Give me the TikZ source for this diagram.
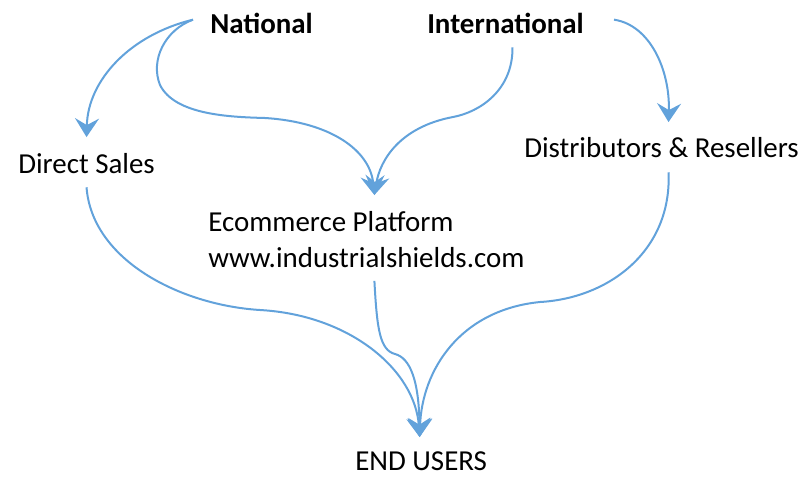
\documentclass[tikz,border=0pt]{standalone}
\usepackage{fontspec}
\setmainfont{Carlito}
\usepackage{xcolor}
\usepackage{tikz}
\usetikzlibrary{calc, arrows.meta, positioning}
\definecolor{flowblue}{RGB}{98,162,219}

\begin{document}
\begin{tikzpicture}[x=0.75pt, y=-0.75pt]
            % Label and arrow styles
            \tikzstyle{lbl} = [inner sep=0pt, font=\fontsize{21.7}{27}\selectfont, text height=14pt, text depth=0pt]
            \tikzstyle{flow} = [draw=flowblue, line width=1.5pt, -{Stealth[length=14pt, width=18pt, inset=5pt]}]

            \useasboundingbox (0,0) rectangle (809,476);

            % Sources
            \node[lbl, font=\fontsize{21.7}{27}\selectfont\bfseries, anchor=base west] (national) at (210,33) {National};
            \node[lbl, font=\fontsize{21.7}{27}\selectfont\bfseries, anchor=base west] (international) at (427,33) {International};

            % Channels
            \node[lbl, anchor=base west] (direct) at (18,173) {Direct Sales};
            \node[lbl, anchor=base west] (dist) at (524,157) {Distributors \& Resellers};
            \node[inner sep=0pt, font=\fontsize{21.7}{27}\selectfont, align=left, anchor=north west] (ecom) at (208,211) {Ecommerce Platform\\www.industrialshields.com};

            % Target
            \node[lbl, anchor=base west] (users) at (355,470) {END USERS};

            % Connections
            \draw[flow] ($(national.west)+(-17,-4)$) .. controls (130,35) and (88,80) .. ($(direct.north)+(0,-17)$);
            \draw[flow] ($(national.west)+(-17,-4)$) .. controls (165,30) and (150,60) .. (160,85)
                .. controls (175,115) and (230,117) .. (265,118)
                .. controls (330,122) and (370,150) .. ($(ecom.north)+(8,-16)$);
            \draw[flow] ($(international.south)+(7,14)$) .. controls (513,90) and (480,112) .. (453,117)
                .. controls (400,127) and (380,160) .. ($(ecom.north)+(8,-16)$);
            \draw[flow] ($(international.east)+(30,-4)$) .. controls (650,25) and (670,70) .. ($(dist.north)+(7,-16)$);

            \draw[flow] ($(direct.south)+(0,14)$) .. controls (92,260) and (180,305) .. (260,310)
                .. controls (350,315) and (415,370) .. ($(users.north)+(-1.5,-14)$);
            \draw[flow] ($(ecom.south)+(8,13)$) .. controls (377,330) and (380,350) .. (395,354)
                .. controls (410,358) and (419,380) .. ($(users.north)+(-1.5,-14)$);
            \draw[flow] ($(dist.south)+(7,15)$) .. controls (672,250) and (610,298) .. (540,302)
                .. controls (460,310) and (422,370) .. ($(users.north)+(-1.5,-14)$);
\end{tikzpicture}
\end{document}
